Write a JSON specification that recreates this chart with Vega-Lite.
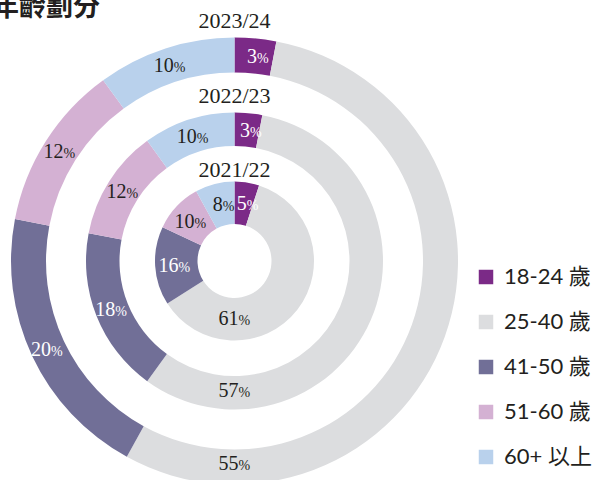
{
  "$schema": "https://vega.github.io/schema/vega-lite/v6.json",
  "width": 469,
  "height": 442,
  "autosize": {"type": "none"},
  "padding": {"left": 0, "top": 40, "right": 130, "bottom": 0},
  "background": "white",
  "title": {"text": "年齡劃分", "anchor": "start", "frame": "group", "fontSize": 27, "fontWeight": "bold", "font": "Noto Sans CJK TC", "color": "#231f20", "dx": -8, "offset": 0, "dy": 33, "baseline": "alphabetic"},
  "config": {"view": {"stroke": null}},
  "data": {"values": [
    {"ring": "2023/24", "cat": "18-24 歲", "v": 3},
    {"ring": "2023/24", "cat": "25-40 歲", "v": 55},
    {"ring": "2023/24", "cat": "41-50 歲", "v": 20},
    {"ring": "2023/24", "cat": "51-60 歲", "v": 12},
    {"ring": "2023/24", "cat": "60+ 以上", "v": 10},
    {"ring": "2022/23", "cat": "18-24 歲", "v": 3},
    {"ring": "2022/23", "cat": "25-40 歲", "v": 57},
    {"ring": "2022/23", "cat": "41-50 歲", "v": 18},
    {"ring": "2022/23", "cat": "51-60 歲", "v": 12},
    {"ring": "2022/23", "cat": "60+ 以上", "v": 10},
    {"ring": "2021/22", "cat": "18-24 歲", "v": 5},
    {"ring": "2021/22", "cat": "25-40 歲", "v": 61},
    {"ring": "2021/22", "cat": "41-50 歲", "v": 16},
    {"ring": "2021/22", "cat": "51-60 歲", "v": 10},
    {"ring": "2021/22", "cat": "60+ 以上", "v": 8}
  ]},
  "layer": [
    {"transform": [{"filter": "datum.ring == '2023/24'"}],
     "mark": {"type": "arc", "radius": 223.5, "radius2": 188.5},
     "encoding": {
       "theta": {"field": "v", "type": "quantitative", "stack": true, "scale": {"domain": [0, 100]}},
       "order": {"field": "cat", "type": "nominal", "sort": "ascending"},
       "color": {"field": "cat", "type": "nominal",
         "scale": {"domain": ["18-24 歲", "25-40 歲", "41-50 歲", "51-60 歲", "60+ 以上"], "range": ["#7b2a87", "#dcdddf", "#716f97", "#d4b1d3", "#b9d1ec"]},
         "legend": {"orient": "none", "legendX": 475, "legendY": 226, "title": null, "symbolType": "square", "symbolSize": 210, "symbolStrokeWidth": 0, "labelFontSize": 22, "labelFont": "Lato, Noto Sans CJK TC", "labelColor": "#231f20", "rowPadding": 23, "labelOffset": 7, "padding": 0}}
     }},
    {"transform": [{"filter": "datum.ring == '2022/23'"}],
     "mark": {"type": "arc", "radius": 148.5, "radius2": 115},
     "encoding": {
       "theta": {"field": "v", "type": "quantitative", "stack": true, "scale": {"domain": [0, 100]}},
       "order": {"field": "cat", "type": "nominal", "sort": "ascending"},
       "color": {"field": "cat", "type": "nominal"}
     }},
    {"transform": [{"filter": "datum.ring == '2021/22'"}],
     "mark": {"type": "arc", "radius": 79.5, "radius2": 37},
     "encoding": {
       "theta": {"field": "v", "type": "quantitative", "stack": true, "scale": {"domain": [0, 100]}},
       "order": {"field": "cat", "type": "nominal", "sort": "ascending"},
       "color": {"field": "cat", "type": "nominal"}
     }},

    {"transform": [{"filter": "datum.ring == '2023/24'"}],
     "mark": {"type": "text", "radius": 206, "align": "right", "dx": 3, "baseline": "alphabetic", "dy": 7, "font": "Liberation Serif", "fontSize": 20},
     "encoding": {
       "theta": {"field": "v", "type": "quantitative", "stack": true, "scale": {"domain": [0, 100]}},
       "order": {"field": "cat", "type": "nominal", "sort": "ascending"},
       "detail": {"field": "cat", "type": "nominal"},
       "text": {"field": "v", "type": "quantitative"},
       "color": {"condition": {"test": "datum.cat == '18-24 歲' || datum.cat == '41-50 歲'", "value": "white"}, "value": "#231f20"},
       "opacity": {"condition": {"test": "datum.cat == '25-40 歲'", "value": 0}, "value": 1}
     }},
    {"transform": [{"filter": "datum.ring == '2023/24'"}],
     "mark": {"type": "text", "radius": 206, "align": "left", "dx": 3, "baseline": "alphabetic", "dy": 7, "font": "Liberation Serif", "fontSize": 14},
     "encoding": {
       "theta": {"field": "v", "type": "quantitative", "stack": true, "scale": {"domain": [0, 100]}},
       "order": {"field": "cat", "type": "nominal", "sort": "ascending"},
       "detail": {"field": "cat", "type": "nominal"},
       "text": {"value": "%"},
       "color": {"condition": {"test": "datum.cat == '18-24 歲' || datum.cat == '41-50 歲'", "value": "white"}, "value": "#231f20"},
       "opacity": {"condition": {"test": "datum.cat == '25-40 歲'", "value": 0}, "value": 1}
     }},
    {"transform": [{"filter": "datum.ring == '2022/23'"}],
     "mark": {"type": "text", "radius": 131.5, "align": "right", "dx": 3, "baseline": "alphabetic", "dy": 7, "font": "Liberation Serif", "fontSize": 20},
     "encoding": {
       "theta": {"field": "v", "type": "quantitative", "stack": true, "scale": {"domain": [0, 100]}},
       "order": {"field": "cat", "type": "nominal", "sort": "ascending"},
       "detail": {"field": "cat", "type": "nominal"},
       "text": {"field": "v", "type": "quantitative"},
       "color": {"condition": {"test": "datum.cat == '18-24 歲' || datum.cat == '41-50 歲'", "value": "white"}, "value": "#231f20"},
       "opacity": {"condition": {"test": "datum.cat == '25-40 歲'", "value": 0}, "value": 1}
     }},
    {"transform": [{"filter": "datum.ring == '2022/23'"}],
     "mark": {"type": "text", "radius": 131.5, "align": "left", "dx": 3, "baseline": "alphabetic", "dy": 7, "font": "Liberation Serif", "fontSize": 14},
     "encoding": {
       "theta": {"field": "v", "type": "quantitative", "stack": true, "scale": {"domain": [0, 100]}},
       "order": {"field": "cat", "type": "nominal", "sort": "ascending"},
       "detail": {"field": "cat", "type": "nominal"},
       "text": {"value": "%"},
       "color": {"condition": {"test": "datum.cat == '18-24 歲' || datum.cat == '41-50 歲'", "value": "white"}, "value": "#231f20"},
       "opacity": {"condition": {"test": "datum.cat == '25-40 歲'", "value": 0}, "value": 1}
     }},
    {"transform": [{"filter": "datum.ring == '2021/22'"}],
     "mark": {"type": "text", "radius": 59, "align": "right", "dx": 3, "baseline": "alphabetic", "dy": 7, "font": "Liberation Serif", "fontSize": 20},
     "encoding": {
       "theta": {"field": "v", "type": "quantitative", "stack": true, "scale": {"domain": [0, 100]}},
       "order": {"field": "cat", "type": "nominal", "sort": "ascending"},
       "detail": {"field": "cat", "type": "nominal"},
       "text": {"field": "v", "type": "quantitative"},
       "color": {"condition": {"test": "datum.cat == '18-24 歲' || datum.cat == '41-50 歲'", "value": "white"}, "value": "#231f20"},
       "opacity": {"condition": {"test": "datum.cat == '25-40 歲'", "value": 0}, "value": 1}
     }},
    {"transform": [{"filter": "datum.ring == '2021/22'"}],
     "mark": {"type": "text", "radius": 59, "align": "left", "dx": 3, "baseline": "alphabetic", "dy": 7, "font": "Liberation Serif", "fontSize": 14},
     "encoding": {
       "theta": {"field": "v", "type": "quantitative", "stack": true, "scale": {"domain": [0, 100]}},
       "order": {"field": "cat", "type": "nominal", "sort": "ascending"},
       "detail": {"field": "cat", "type": "nominal"},
       "text": {"value": "%"},
       "color": {"condition": {"test": "datum.cat == '18-24 歲' || datum.cat == '41-50 歲'", "value": "white"}, "value": "#231f20"},
       "opacity": {"condition": {"test": "datum.cat == '25-40 歲'", "value": 0}, "value": 1}
     }},

    {"transform": [{"filter": "datum.ring == '2023/24' && datum.cat == '25-40 歲'"}],
     "mark": {"type": "text", "radius": 202, "align": "right", "dx": 4, "baseline": "alphabetic", "dy": 7, "font": "Liberation Serif", "fontSize": 20, "color": "#231f20"},
     "encoding": {"theta": {"datum": 50, "type": "quantitative", "scale": {"domain": [0, 100]}}, "text": {"field": "v", "type": "quantitative"}}},
    {"transform": [{"filter": "datum.ring == '2023/24' && datum.cat == '25-40 歲'"}],
     "mark": {"type": "text", "radius": 202, "align": "left", "dx": 4, "baseline": "alphabetic", "dy": 7, "font": "Liberation Serif", "fontSize": 14, "color": "#231f20"},
     "encoding": {"theta": {"datum": 50, "type": "quantitative", "scale": {"domain": [0, 100]}}, "text": {"value": "%"}}},
    {"transform": [{"filter": "datum.ring == '2022/23' && datum.cat == '25-40 歲'"}],
     "mark": {"type": "text", "radius": 129, "align": "right", "dx": 4, "baseline": "alphabetic", "dy": 7, "font": "Liberation Serif", "fontSize": 20, "color": "#231f20"},
     "encoding": {"theta": {"datum": 50, "type": "quantitative", "scale": {"domain": [0, 100]}}, "text": {"field": "v", "type": "quantitative"}}},
    {"transform": [{"filter": "datum.ring == '2022/23' && datum.cat == '25-40 歲'"}],
     "mark": {"type": "text", "radius": 129, "align": "left", "dx": 4, "baseline": "alphabetic", "dy": 7, "font": "Liberation Serif", "fontSize": 14, "color": "#231f20"},
     "encoding": {"theta": {"datum": 50, "type": "quantitative", "scale": {"domain": [0, 100]}}, "text": {"value": "%"}}},
    {"transform": [{"filter": "datum.ring == '2021/22' && datum.cat == '25-40 歲'"}],
     "mark": {"type": "text", "radius": 57, "align": "right", "dx": 4, "baseline": "alphabetic", "dy": 7, "font": "Liberation Serif", "fontSize": 20, "color": "#231f20"},
     "encoding": {"theta": {"datum": 50, "type": "quantitative", "scale": {"domain": [0, 100]}}, "text": {"field": "v", "type": "quantitative"}}},
    {"transform": [{"filter": "datum.ring == '2021/22' && datum.cat == '25-40 歲'"}],
     "mark": {"type": "text", "radius": 57, "align": "left", "dx": 4, "baseline": "alphabetic", "dy": 7, "font": "Liberation Serif", "fontSize": 14, "color": "#231f20"},
     "encoding": {"theta": {"datum": 50, "type": "quantitative", "scale": {"domain": [0, 100]}}, "text": {"value": "%"}}},

    {"transform": [{"filter": "datum.ring == '2023/24' && datum.cat == '18-24 歲'"}],
     "mark": {"type": "text", "radius": 240.5, "align": "center", "baseline": "middle", "font": "Liberation Serif", "fontSize": 22, "color": "#231f20"},
     "encoding": {"theta": {"datum": 0, "type": "quantitative", "scale": {"domain": [0, 100]}}, "text": {"field": "ring", "type": "nominal"}}},
    {"transform": [{"filter": "datum.ring == '2022/23' && datum.cat == '18-24 歲'"}],
     "mark": {"type": "text", "radius": 165.5, "align": "center", "baseline": "middle", "font": "Liberation Serif", "fontSize": 22, "color": "#231f20"},
     "encoding": {"theta": {"datum": 0, "type": "quantitative", "scale": {"domain": [0, 100]}}, "text": {"field": "ring", "type": "nominal"}}},
    {"transform": [{"filter": "datum.ring == '2021/22' && datum.cat == '18-24 歲'"}],
     "mark": {"type": "text", "radius": 91, "align": "center", "baseline": "middle", "font": "Liberation Serif", "fontSize": 22, "color": "#231f20"},
     "encoding": {"theta": {"datum": 0, "type": "quantitative", "scale": {"domain": [0, 100]}}, "text": {"field": "ring", "type": "nominal"}}}
  ]
}
